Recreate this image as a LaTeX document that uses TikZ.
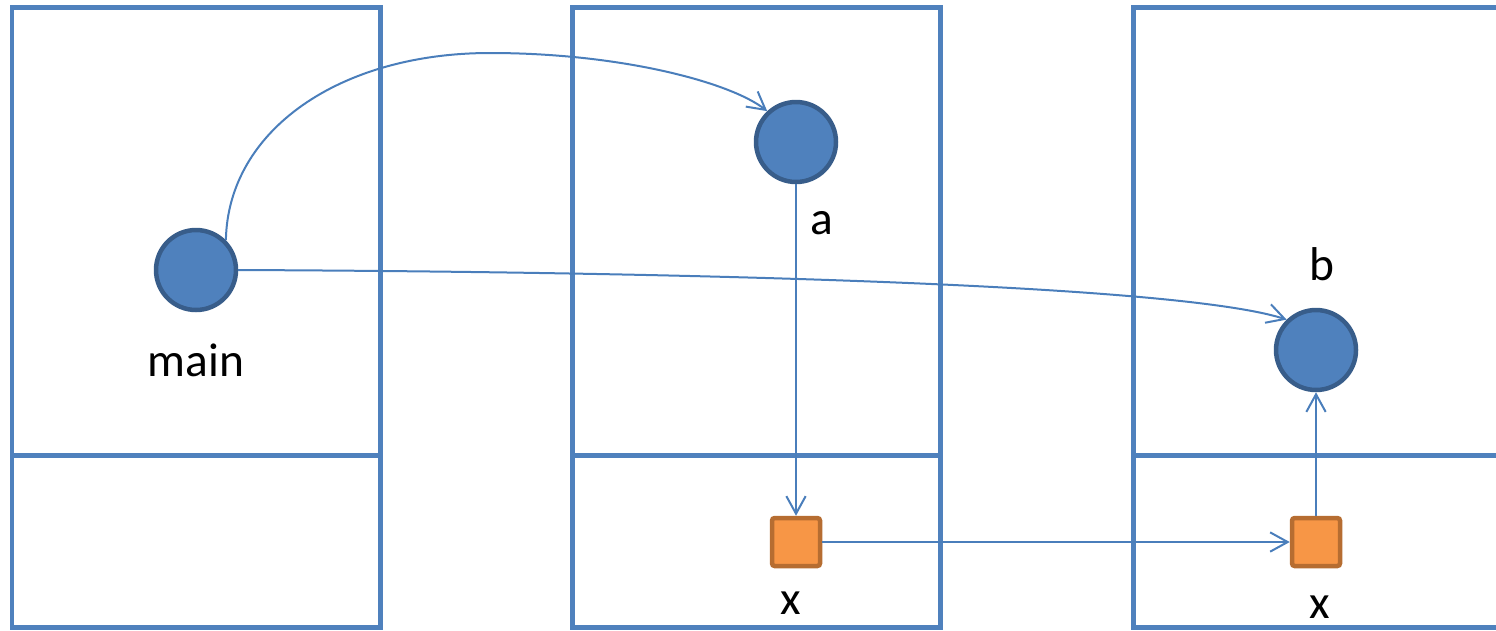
\documentclass[tikz,border=0pt]{standalone}
\usepackage{fontspec}
\setmainfont{Carlito}
\usetikzlibrary{arrows.meta}
\definecolor{frameblue}{HTML}{4F81BD}
\definecolor{objedge}{HTML}{385D8A}
\definecolor{reffill}{HTML}{F79646}
\definecolor{refedge}{HTML}{B66D31}
\definecolor{linkblue}{HTML}{4A7EBB}
\begin{document}
\begin{tikzpicture}[x=0.02cm, y=-0.02cm, font=\fontsize{27}{32}\selectfont,
      >={Straight Barb[length=10pt, width=11pt]},
      frame/.style={draw=frameblue, line width=0.1cm},
      obj/.style={circle, draw=objedge, fill=frameblue, line width=0.09cm, minimum size=1.6cm, inner sep=0pt},
      ref/.style={draw=refedge, fill=reffill, line width=0.09cm, minimum size=0.96cm, inner sep=0pt, rounded corners=1.5pt},
      link/.style={draw=linkblue, line width=0.04cm, ->}]
    \useasboundingbox (0,0) rectangle (1496,630);
    % three frames, each split in two
    \draw[frame] (12,7) rectangle (380,627);
    \draw[frame] (12,455) -- (380,455);
    \draw[frame] (572,7) rectangle (940,627);
    \draw[frame] (572,455) -- (940,455);
    \begin{scope}
      \clip (0,0) rectangle (1496,630);
      \draw[frame] (1133,7) rectangle (1530,627);
      \draw[frame] (1133,455) -- (1530,455);
    \end{scope}
    \node[obj] (main) at (196,270) {};
    \node[obj] (a) at (796,142) {};
    \node[obj] (b) at (1316,350) {};
    \node[ref] (x1) at (796,542) {};
    \node[ref] (x2) at (1316,542) {};
    \node (mainlbl) at (196,360) {main};
    \node (albl) at (822,223) {a};
    \node (blbl) at (1322,264) {b};
    \node (x1lbl) at (791,603) {x};
    \node (x2lbl) at (1320,607) {x};
    \draw[link] (main.45) .. controls (228,130) and (340,53) .. (490,53)
      .. controls (620,53) and (730,82) .. (a.133);
    \draw[link] (main.east) .. controls (700,272) and (1180,285) .. (b.134);
    \draw[link] (a) -- (x1);
    \draw[link] (x1) -- (x2);
    \draw[link] (x2) -- (b);
  \end{tikzpicture}
\end{document}
